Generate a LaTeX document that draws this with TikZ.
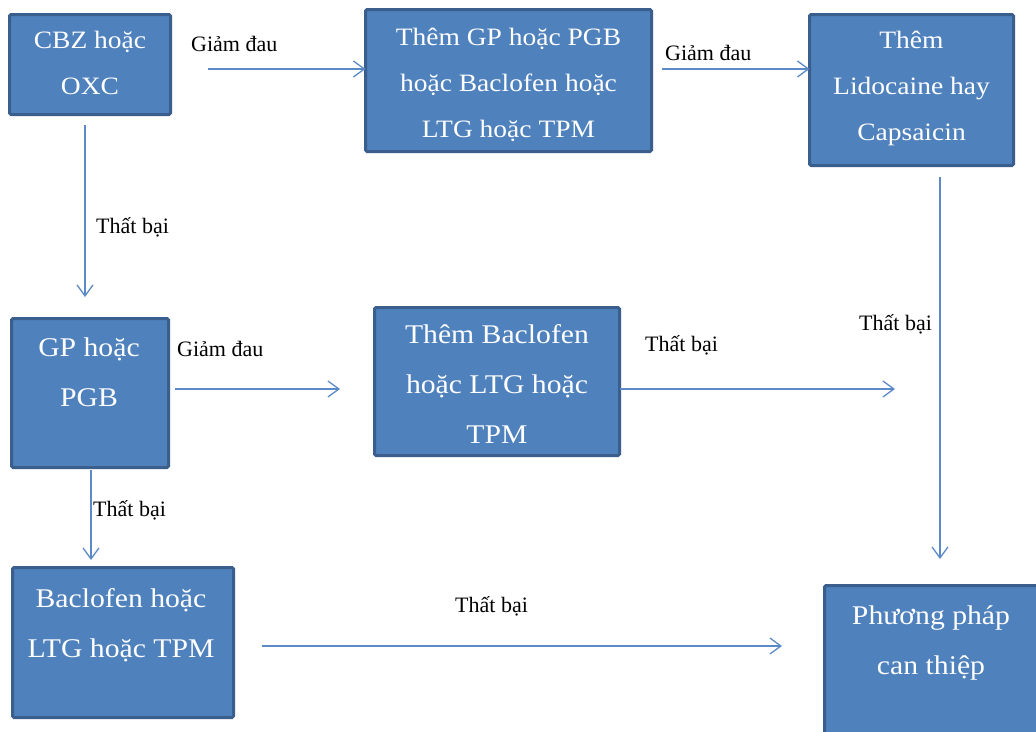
\documentclass[tikz,border=0pt]{standalone}
\usepackage{fontspec}
\setmainfont{Liberation Serif}
\newfontfamily\boxfont{Liberation Serif}[FakeStretch=1.1]
\usetikzlibrary{arrows.meta}
\definecolor{boxfill}{HTML}{4F81BD}
\definecolor{boxline}{HTML}{3A5F8C}
\definecolor{arrowblue}{HTML}{5B8AC6}
\tikzset{
  flowbox/.style={draw=boxline, line width=3pt, fill=boxfill, rounded corners=1.5pt,
    anchor=north west, inner sep=0pt, outer sep=0pt},
  % anchored at the baseline of the last line
  boxtext/.style={text=white, align=center, anchor=base, inner sep=0pt,
    font=\boxfont\fontsize{25}{46}\selectfont},
  boxtextlg/.style={boxtext, font=\boxfont\fontsize{27}{50}\selectfont},
  edgelabel/.style={anchor=base west, inner sep=0pt, font=\fontsize{22}{26}\selectfont},
  arr/.style={draw=arrowblue, line width=1.3pt,
    -{Straight Barb[length=11pt,width=16pt,line width=1.3pt]}}
}
\begin{document}
\begin{tikzpicture}[x=1pt,y=-1pt]
\fill[white] (0,0) rectangle (1036,731);
\useasboundingbox (0,0) rectangle (1036,731);

% boxes
\node[flowbox, minimum width=161pt, minimum height=100pt] (b1) at (9.5,14.5) {};
\node[flowbox, minimum width=286pt, minimum height=142pt] (b2) at (365.5,9.5) {};
\node[flowbox, minimum width=204pt, minimum height=151pt] (b3) at (809.5,14.5) {};
\node[flowbox, minimum width=157pt, minimum height=149pt] (b4) at (11.5,318.5) {};
\node[flowbox, minimum width=245pt, minimum height=148pt] (b5) at (374.5,307.5) {};
\node[flowbox, minimum width=221pt, minimum height=150pt] (b6) at (12.5,567.5) {};
\node[flowbox, minimum width=214pt, minimum height=180pt] (b7) at (824.5,585.5) {};

% box texts
\node[boxtext] (t1) at (90,94) {CBZ hoặc\\OXC};
\node[boxtext] (t2) at (508.5,137) {Thêm GP hoặc PGB\\hoặc Baclofen hoặc\\LTG hoặc TPM};
\node[boxtext] (t3) at (911.5,140) {Thêm\\Lidocaine hay\\Capsaicin};
\node[boxtextlg] (t4) at (89,406) {GP hoặc\\PGB};
\node[boxtextlg] (t5) at (497,443) {Thêm Baclofen\\hoặc LTG hoặc\\TPM};
\node[boxtextlg] (t6) at (121,657) {Baclofen hoặc\\LTG hoặc TPM};
\node[boxtextlg] (t7) at (931,674) {Phương pháp\\can thiệp};

% connector end points
\coordinate (a1) at (208,69);
\coordinate (a2) at (662,69);
\coordinate (a3s) at (85,125);
\coordinate (a3e) at (85,297);
\coordinate (a4s) at (175,389);
\coordinate (a4e) at (340,389);
\coordinate (a5e) at (895,389);
\coordinate (a6s) at (940,177);
\coordinate (a6e) at (940,559);
\coordinate (a7s) at (91,470);
\coordinate (a7e) at (91,560);
\coordinate (a8s) at (262,646);
\coordinate (a8e) at (782,646);

% connectors
\draw[arr] (a1) -- (b2.west |- a1);
\draw[arr] (a2) -- (b3.west |- a2);
\draw[arr] (a3s) -- (a3e);
\draw[arr] (a4s) -- (a4e);
\draw[arr] (b5.east |- a4s) -- (a5e);
\draw[arr] (a6s) -- (a6e);
\draw[arr] (a7s) -- (a7e);
\draw[arr] (a8s) -- (a8e);

% connector labels
\node[edgelabel] (l1) at (191,51) {Giảm đau};
\node[edgelabel] (l2) at (665,60) {Giảm đau};
\node[edgelabel] (l3) at (96,233) {Thất bại};
\node[edgelabel] (l4) at (177,356) {Giảm đau};
\node[edgelabel] (l5) at (645,351) {Thất bại};
\node[edgelabel] (l6) at (859,330) {Thất bại};
\node[edgelabel] (l7) at (93,516) {Thất bại};
\node[edgelabel] (l8) at (455,612) {Thất bại};
\end{tikzpicture}
\end{document}
